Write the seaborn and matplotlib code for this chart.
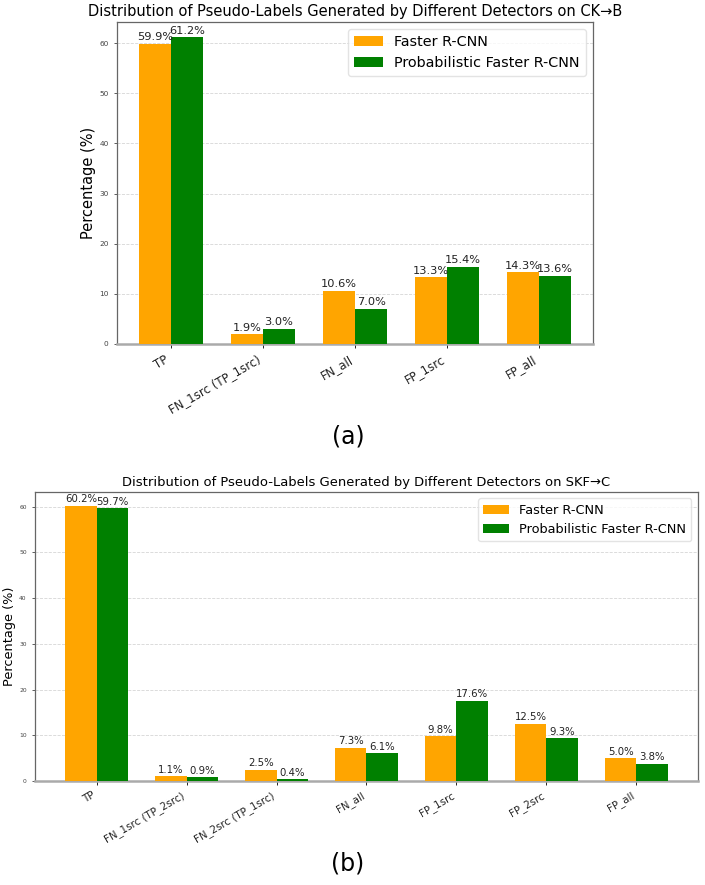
import matplotlib
matplotlib.use("Agg")
import matplotlib.pyplot as plt
import seaborn as sns
import pandas as pd

detectors = ["Faster R-CNN", "Probabilistic Faster R-CNN"]
colors = {"Faster R-CNN": "#FFA500", "Probabilistic Faster R-CNN": "#008000"}

cats_a = ["TP", "FN_1src (TP_1src)", "FN_all", "FP_1src", "FP_all"]
faster_a = [59.9, 1.9, 10.6, 13.3, 14.3]
prob_a = [61.2, 3.0, 7.0, 15.4, 13.6]
title_a = "Distribution of Pseudo-Labels Generated by Different Detectors on CK→B"

cats_b = ["TP", "FN_1src (TP_2src)", "FN_2src (TP_1src)", "FN_all",
          "FP_1src", "FP_2src", "FP_all"]
faster_b = [60.2, 1.1, 2.5, 7.3, 9.8, 12.5, 5.0]
prob_b = [59.7, 0.9, 0.4, 6.1, 17.6, 9.3, 3.8]
title_b = "Distribution of Pseudo-Labels Generated by Different Detectors on SKF→C"

plt.rcParams["font.family"] = ["DejaVu Sans"]


def make_df(cats, f, p):
    return pd.DataFrame({
        "category": cats * 2,
        "value": f + p,
        "detector": [detectors[0]] * len(cats) + [detectors[1]] * len(cats),
    })


def draw(ax, cats, f, p, title, fs):
    df = make_df(cats, f, p)
    sns.barplot(data=df, x="category", y="value", hue="detector",
                palette=colors, saturation=1, width=0.7, ax=ax,
                edgecolor="none", linewidth=0, zorder=3)
    n = len(cats)
    span = (n - 1) + 0.7
    ax.set_xlim(-0.35 - 0.05 * span, n - 1 + 0.35 + 0.05 * span)
    ymax = max(max(f), max(p))
    ax.set_ylim(0, ymax * 1.05)
    ax.set_yticks([0, 10, 20, 30, 40, 50, 60])
    ax.grid(axis="y", linestyle="--", color="#cccccc", linewidth=0.6, alpha=0.8, zorder=0)
    ax.set_axisbelow(True)
    for c in ax.containers:
        ax.bar_label(c, fmt="%.1f%%", fontsize=fs["ann"], padding=1, color="#222222")
    ax.set_title(title, fontsize=fs["title"], pad=4)
    ax.set_xlabel("")
    ax.set_ylabel("Percentage (%)", fontsize=fs["ylabel"], labelpad=2)
    ax.tick_params(axis="y", labelsize=fs["ytick"], colors="#444444", length=2.5, width=0.6)
    ax.tick_params(axis="x", labelsize=fs["xtick"], length=3, width=0.6)
    plt.setp(ax.get_xticklabels(), rotation=30, ha="right", color="#222222")
    for s in ["left", "top", "right"]:
        ax.spines[s].set_color("#666666")
        ax.spines[s].set_linewidth(0.9)
    ax.spines["bottom"].set_color("#aaaaaa")
    ax.spines["bottom"].set_linewidth(1.8)
    ax.legend(loc="upper right", fontsize=fs["legend"], framealpha=0.8,
              edgecolor="#dddddd")


fig = plt.figure(figsize=(7.05, 8.85), dpi=100)
ax1 = fig.add_axes([0.166, 0.6116, 0.675, 0.3635])
ax2 = fig.add_axes([0.0496, 0.1175, 0.9404, 0.3266])

draw(ax1, cats_a, faster_a, prob_a, title_a,
     dict(ann=8.2, title=10.5, ylabel=10.5, ytick=5.3, xtick=8.5, legend=10.4))
draw(ax2, cats_b, faster_b, prob_b, title_b,
     dict(ann=7.3, title=9.45, ylabel=9.3, ytick=4.3, xtick=7.4, legend=9.3))

fig.text(348 / 705, 1 - 436 / 885, "(a)", fontsize=17, ha="center", va="center")
fig.text(348 / 705, 1 - 864 / 885, "(b)", fontsize=17, ha="center", va="center")

fig.savefig("out.png", dpi=100)
